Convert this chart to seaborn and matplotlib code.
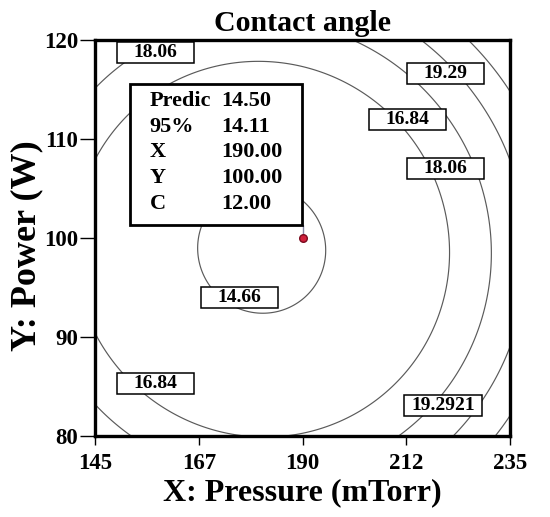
import numpy as np
import matplotlib
matplotlib.use("Agg")
import matplotlib.pyplot as plt
from matplotlib.patches import Rectangle
import seaborn as sns

# ── Data ─────────────────────────────────────────────────────────────────────
x_ticks = [145, 167.5, 190, 212.5, 235]
x_tick_labels = ["145", "167", "190", "212", "235"]
y_ticks = [80, 90, 100, 110, 120]
y_tick_labels = ["80", "90", "100", "110", "120"]

# quadratic response model, coded units A=(x-190)/45, B=(y-100)/20
b0, bA, bB, bAB, bAA, bBB = 14.50, 1.19, 0.33, 0.10, 3.01, 2.74

contour_levels = [14.66, 16.84, 18.06, 19.29, 20.52]
label_texts = ["18.06", "19.29", "16.84", "18.06", "14.66", "16.84", "19.2921"]

point_x = [190.0]
point_y = [100.0]
info_labels = ["Predic", "95%", "X", "Y", "C"]
info_values = ["14.50", "14.11", "190.00", "100.00", "12.00"]

# where the boxed contour labels sit (layout only)
label_x = [158.1, 221.0, 212.7, 221.0, 176.4, 158.1, 220.5]
label_y = [118.7, 116.6, 112.0, 107.0, 94.0, 85.3, 83.1]


# ── Style ─────────────────────────────────────────────────────────────────────
sns.set_style("ticks")
plt.rcParams["font.family"] = ["Liberation Serif", "DejaVu Serif"]
plt.rcParams["font.weight"] = "bold"
for key in ["text.color", "axes.labelcolor", "xtick.color", "ytick.color"]:
    plt.rcParams[key] = "black"

fig = plt.figure(figsize=(5.5, 5.17), dpi=100)
ax = fig.add_axes([0.1727, 0.1567, 0.7546, 0.7659])

# ── Surface ───────────────────────────────────────────────────────────────────
xs = np.linspace(145, 235, 300)
ys = np.linspace(80, 120, 300)
X, Y = np.meshgrid(xs, ys)
A = (X - 190) / 45
B = (Y - 100) / 20
Z = b0 + bA * A + bB * B + bAB * A * B + bAA * A**2 + bBB * B**2

ax.contour(X, Y, Z, levels=contour_levels, colors="#5a5a5a", linewidths=0.85)

# boxed contour labels, fixed size like Design-Expert
bw, bh = 16.77, 2.12
for lx, ly, txt in zip(label_x, label_y, label_texts):
    ax.add_patch(Rectangle((lx - bw / 2, ly - bh / 2), bw, bh, facecolor="white",
                           edgecolor="black", linewidth=1.1, zorder=3))
    ax.text(lx, ly, txt, ha="center", va="center", fontsize=14,
            fontweight="bold", zorder=4)

# prediction point and info box
ax.plot([190, 190], [101.3, 100.2], color="#8a8aa8", linewidth=1.0, zorder=4)
sns.scatterplot(x=point_x, y=point_y, ax=ax, color="#d0203c", edgecolor="#7a0a1e",
                s=30, linewidth=1.0, zorder=5, legend=False)

ax.add_patch(Rectangle((152.7, 101.3), 37.2, 14.3, facecolor="white",
                       edgecolor="black", linewidth=2.0, zorder=5))
row_y = [113.33, 110.71, 108.15, 105.51, 102.90]
for ry, lab, val in zip(row_y, info_labels, info_values):
    ax.text(156.8, ry, lab, fontsize=16, fontweight="bold", va="baseline", zorder=6)
    ax.text(172.3, ry, val, fontsize=16, fontweight="bold", va="baseline", zorder=6)

# ── Axes ──────────────────────────────────────────────────────────────────────
ax.set_xlim(145, 235)
ax.set_ylim(80, 120)
ax.set_xticks(x_ticks)
ax.set_xticklabels(x_tick_labels)
ax.set_yticks(y_ticks)
ax.set_yticklabels(y_tick_labels)
ax.tick_params(axis="x", direction="out", length=6.5, width=1, pad=6, labelsize=16.5)
ax.tick_params(axis="y", direction="out", length=10.5, width=1, pad=1.5, labelsize=16.5)
for spine in ax.spines.values():
    spine.set_linewidth(2.4)
    spine.set_color("black")

ax.set_title("Contact angle", fontsize=21.5, fontweight="bold", pad=6.5)
ax.set_xlabel("X: Pressure (mTorr)", fontsize=23, fontweight="bold")
ax.set_ylabel("Y: Power (W)", fontsize=26, fontweight="bold")
ax.xaxis.set_label_coords(0.5, -0.106)
ax.yaxis.set_label_coords(-0.125, 0.48)

fig.savefig("out.png", dpi=100)
